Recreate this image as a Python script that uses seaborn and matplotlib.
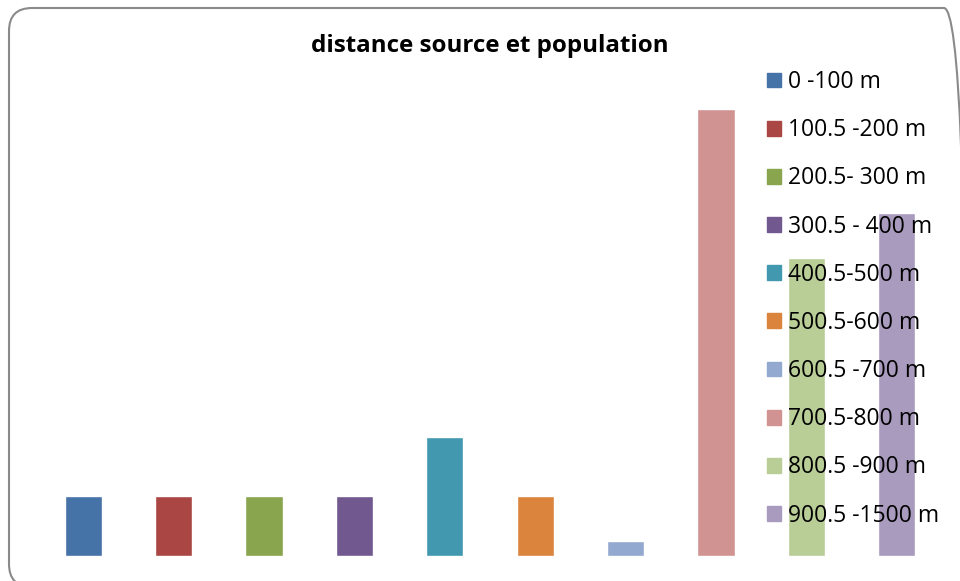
import matplotlib
matplotlib.use("Agg")
import matplotlib.pyplot as plt
from matplotlib.patches import FancyBboxPatch
import seaborn as sns
import pandas as pd

categories = ["0 -100 m", "100.5 -200 m", "200.5- 300 m", "300.5 - 400 m",
              "400.5-500 m", "500.5-600 m", "600.5 -700 m", "700.5-800 m",
              "800.5 -900 m", "900.5 -1500 m"]
population = [4, 4, 4, 4, 8, 4, 1, 30, 20, 23]
colors = ["#4572A7", "#AA4643", "#89A54E", "#71588F", "#4198AF",
          "#DB843D", "#93A9CF", "#D19392", "#B9CD96", "#A99BBD"]
title = "distance source et population"

df = pd.DataFrame({"classe": categories, "population": population})

sns.set_theme(style="white")
plt.rcParams["font.family"] = ["Open Sans", "DejaVu Sans"]
plt.rcParams["text.color"] = "black"

fig = plt.figure(figsize=(9.6, 5.81), dpi=100)
ax = fig.add_axes([38 / 960, 25 / 581, 904 / 960, 521.5 / 581])

sns.barplot(data=df, x="classe", y="population", hue="classe",
            palette=colors, width=0.41, saturation=1, legend=False, ax=ax)

ax.set_ylim(0, 35)
ax.set_xlim(-0.5, len(categories) - 0.5)
ax.set_axis_off()

handles = [plt.Rectangle((0, 0), 1, 1, color=c) for c in colors]
fig.legend(handles, categories, loc="upper left",
           bbox_to_anchor=(767 / 960, 1 - 70 / 581),
           bbox_transform=fig.transFigure, frameon=False,
           fontsize=16.5, handlelength=0.62, handleheight=0.62,
           handletextpad=0.3, labelspacing=1.055, borderpad=0,
           borderaxespad=0, labelcolor="black")

fig.text(490 / 960, 1 - 46 / 581, title, ha="center", va="center",
         fontsize=17.4, fontweight="bold", color="black")

frame = FancyBboxPatch((9 / 960, -6 / 581), 958 / 960, 579 / 581,
                       boxstyle="round,pad=0,rounding_size=0.024",
                       transform=fig.transFigure, fill=False,
                       edgecolor="#8a8a8a", linewidth=1.5,
                       mutation_aspect=960 / 581)
fig.patches.append(frame)

fig.savefig("out.png", dpi=100, facecolor="white")
